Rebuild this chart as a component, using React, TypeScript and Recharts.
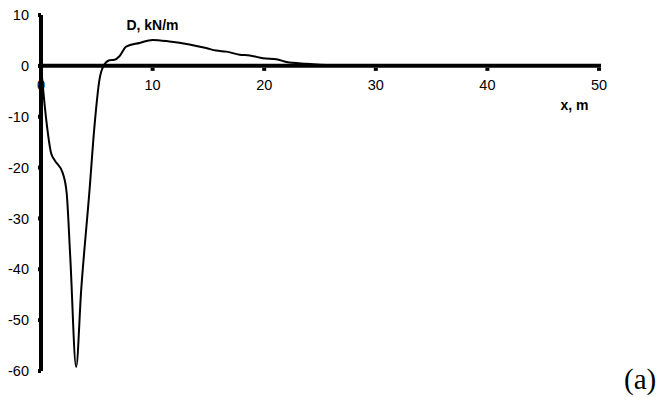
import React from 'react';
import { LineChart, Line, XAxis, YAxis, ReferenceLine, ReferenceDot } from 'recharts';

// x (m) and D (kN/m)
const xValues = [
  0, 0.47, 0.91, 1.21, 1.95, 2.3, 2.62, 3.15, 3.6, 4.35, 4.79, 5.24, 5.54,
  6.14, 6.59, 7.03, 7.63, 8.83, 10.0, 11.5, 13.3, 14.8, 15.7, 16.6, 17.8,
  18.7, 19.9, 21.1, 22.0, 23.8, 26.1, 28, 35, 50,
];
const dValues = [
  0, -10.6, -17.2, -18.5, -21.1, -25, -37.5, -59.2, -44.1, -24.4, -11.9, -2.7, -0.3,
  1.1, 1.2, 1.9, 3.8, 4.5, 5.1, 4.8, 4.2, 3.5, 3.0, 2.8, 2.2,
  2.05, 1.5, 1.3, 0.75, 0.4, 0.1, 0, 0, 0,
];
const xTicks = [0, 10, 20, 30, 40, 50];
const yTicks = [-60, -50, -40, -30, -20, -10, 0, 10];

const data = xValues.map((x, i) => ({ x, d: dValues[i] }));

const FONT = 'Arial, "Liberation Sans", sans-serif';

const XTick = ({ cx, cy, value }: any) => (
  <g>
    {value !== 0 && <rect x={cx - 2} y={cy + 2} width={4} height={3} fill="#000" />}
    <text x={cx} y={cy + 24} textAnchor="middle" fontSize={14.5} fontFamily={FONT} fill="#000">
      {value}
    </text>
  </g>
);

export default function App() {
  return (
    <div style={{ position: 'absolute', left: 0, top: 0, width: 660, height: 397, background: '#fff' }}>
      <LineChart width={660} height={397} data={data} margin={{ top: 15, right: 61, bottom: 26, left: 0 }}>
        <XAxis dataKey="x" type="number" domain={[0, 50]} hide />
        <YAxis
          type="number"
          domain={[-60, 10]}
          ticks={yTicks}
          width={41}
          interval={0}
          axisLine={{ stroke: '#000', strokeWidth: 4 }}
          tickLine={{ stroke: '#000', strokeWidth: 4 }}
          tickSize={3}
          tickMargin={9}
          tick={{ fontSize: 14.5, fontFamily: FONT, fill: '#000' }}
        />
        <ReferenceLine
          segment={[{ x: 0, y: 0 }, { x: 50, y: 0 }]}
          stroke="#000"
          strokeWidth={4}
          strokeLinecap="square"
        />
        {xTicks.map((t) => (
          <ReferenceDot key={t} x={t} y={0} shape={(p: any) => <XTick {...p} value={t} />} />
        ))}
        <Line
          dataKey="d"
          type="monotone"
          stroke="#000"
          strokeWidth={2}
          dot={false}
          isAnimationActive={false}
        />
      </LineChart>
      <svg width={660} height={397} style={{ position: 'absolute', left: 0, top: 0, pointerEvents: 'none' }}>
        <text x={152.5} y={30} textAnchor="middle" fontSize={14} fontWeight="bold" fontFamily={FONT} fill="#000">
          D, kN/m
        </text>
        <text x={574.5} y={110} textAnchor="middle" fontSize={14} fontWeight="bold" fontFamily={FONT} fill="#000">
          x, m
        </text>
        <text x={624} y={389} fontSize={29} fontFamily='"Times New Roman", "Liberation Serif", serif' fill="#000">
          (a)
        </text>
      </svg>
    </div>
  );
}
